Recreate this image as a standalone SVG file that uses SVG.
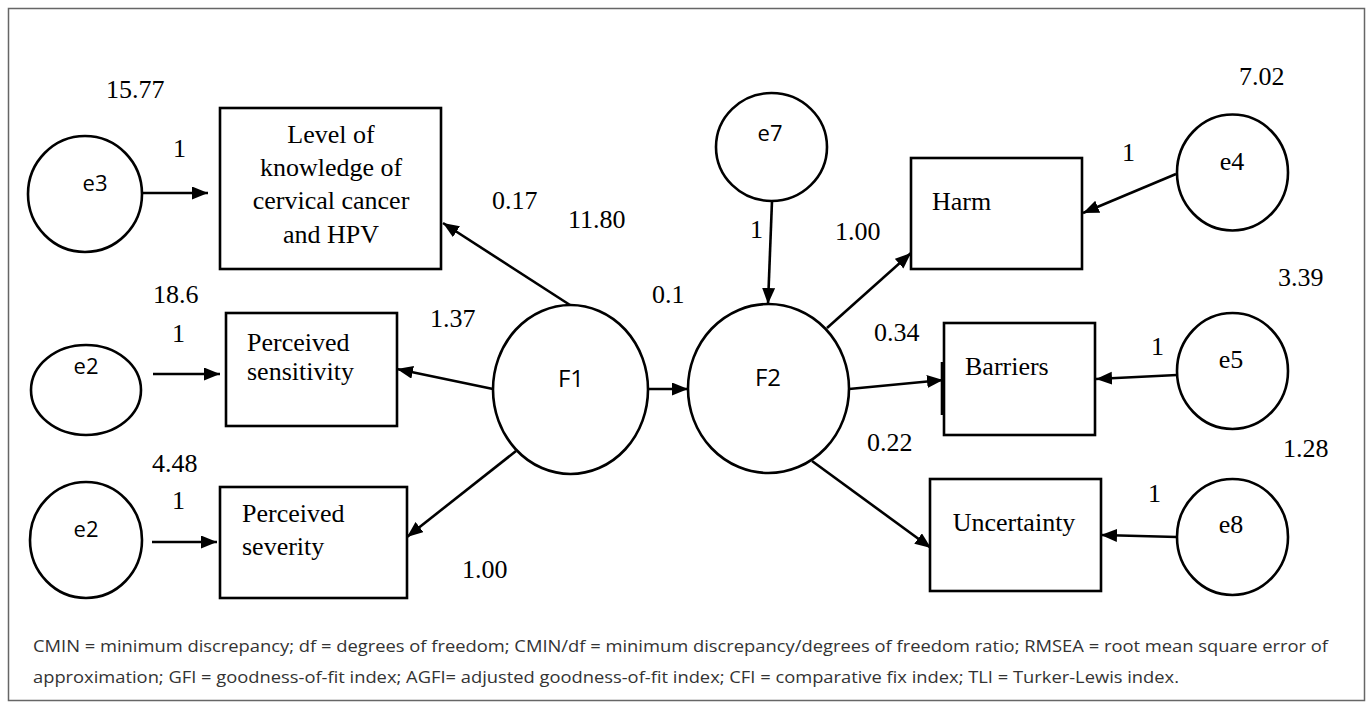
<svg xmlns="http://www.w3.org/2000/svg" width="1372" height="708" viewBox="0 0 1372 708">
<style>
.bg{fill:#fff}
.frame{fill:none;stroke:#666;stroke-width:1.5}
.shape{fill:#fff;stroke:#000;stroke-width:2.6}
.edge{fill:none;stroke:#000;stroke-width:2.6}
.serif{font-family:"Liberation Serif","Times New Roman",serif;font-size:26px;fill:#000}
.sans{font-family:"Open Sans","Liberation Sans",sans-serif;font-size:22px;fill:#000}
.big{font-size:24px}
.cap{font-family:"Open Sans","Liberation Sans",sans-serif;font-size:16px;fill:#333}
.mid{text-anchor:middle}
</style>
<defs>
<marker id="ah" markerUnits="userSpaceOnUse" markerWidth="18" markerHeight="14" refX="16" refY="6.5" orient="auto">
<path d="M0,0 L16,6.5 L0,13 z" fill="#000"/>
</marker>
</defs>
<rect class="bg" x="0" y="0" width="1372" height="708"/>
<rect class="frame" x="8.5" y="8.5" width="1356" height="692"/>

<g id="connectors">
<line class="edge" x1="142" y1="193" x2="208" y2="193" marker-end="url(#ah)"/>
<line class="edge" x1="153" y1="374" x2="220" y2="374" marker-end="url(#ah)"/>
<line class="edge" x1="152" y1="542" x2="217" y2="542" marker-end="url(#ah)"/>
<line class="edge" x1="570" y1="305" x2="443" y2="223" marker-end="url(#ah)"/>
<line class="edge" x1="493" y1="389" x2="397" y2="369" marker-end="url(#ah)"/>
<line class="edge" x1="516" y1="451" x2="407" y2="537" marker-end="url(#ah)"/>
<line class="edge" x1="648" y1="389" x2="688" y2="389" marker-end="url(#ah)"/>
<line class="edge" x1="772" y1="201" x2="768" y2="304" marker-end="url(#ah)"/>
<line class="edge" x1="827" y1="328" x2="911" y2="253" marker-end="url(#ah)"/>
<line class="edge" x1="849" y1="389" x2="943" y2="380" marker-end="url(#ah)"/>
<line class="edge" x1="812" y1="461" x2="931" y2="548" marker-end="url(#ah)"/>
<line class="edge" x1="1176" y1="174" x2="1083" y2="213" marker-end="url(#ah)"/>
<line class="edge" x1="1177" y1="375" x2="1096" y2="379" marker-end="url(#ah)"/>
<line class="edge" x1="1177" y1="537" x2="1101" y2="535" marker-end="url(#ah)"/>
</g>

<g id="e3">
<ellipse class="shape" cx="85" cy="194" rx="57" ry="58"/>
<text class="sans" x="95" y="191" text-anchor="middle">e3</text>
</g>
<g id="e2a">
<ellipse class="shape" cx="86" cy="390" rx="55" ry="45"/>
<text class="sans" x="86" y="374" text-anchor="middle">e2</text>
</g>
<g id="e2b">
<ellipse class="shape" cx="86" cy="540" rx="56" ry="58"/>
<text class="sans" x="86" y="537" text-anchor="middle">e2</text>
</g>
<g id="knowledge">
<rect class="shape" x="220" y="108" width="221" height="161"/>
<text class="serif mid" x="331" y="143">Level of</text>
<text class="serif mid" x="331" y="176">knowledge of</text>
<text class="serif mid" x="331" y="209">cervical cancer</text>
<text class="serif mid" x="331" y="243">and HPV</text>
</g>
<g id="sensitivity">
<rect class="shape" x="226" y="313" width="171" height="113"/>
<text class="serif" x="247" y="351">Perceived</text>
<text class="serif" x="247" y="380">sensitivity</text>
</g>
<g id="severity">
<rect class="shape" x="220" y="487" width="187" height="111"/>
<text class="serif" x="242" y="522">Perceived</text>
<text class="serif" x="242" y="555">severity</text>
</g>
<g id="F1">
<ellipse class="shape" cx="570.5" cy="389.5" rx="77.5" ry="84.5"/>
<text class="sans big mid" x="571" y="387">F1</text>
</g>
<g id="F2">
<ellipse class="shape" cx="768.5" cy="388.5" rx="80.5" ry="84.5"/>
<text class="sans big mid" x="768" y="386">F2</text>
</g>
<g id="e7">
<ellipse class="shape" cx="771.5" cy="147" rx="55.5" ry="54"/>
<text class="sans mid" x="770" y="141">e7</text>
</g>
<g id="harm">
<rect class="shape" x="911" y="158" width="171" height="111"/>
<text class="serif" x="932" y="210">Harm</text>
</g>
<g id="barriers">
<rect class="shape" x="944" y="323" width="151" height="112"/>
<line class="edge" x1="942" y1="362" x2="942" y2="415"/>
<text class="serif" x="965" y="375">Barriers</text>
</g>
<g id="uncertainty">
<rect class="shape" x="930" y="479" width="171" height="112"/>
<text class="serif mid" x="1014" y="531">Uncertainty</text>
</g>
<g id="e4">
<ellipse class="shape" cx="1232.5" cy="172.5" rx="55.5" ry="58"/>
<text class="serif mid" x="1232" y="170" font-size="24">e4</text>
</g>
<g id="e5">
<ellipse class="shape" cx="1232.5" cy="371" rx="55.5" ry="58"/>
<text class="serif mid" x="1231" y="368" font-size="24">e5</text>
</g>
<g id="e8">
<ellipse class="shape" cx="1232.5" cy="537" rx="55.5" ry="58"/>
<text class="serif mid" x="1231" y="533" font-size="24">e8</text>
</g>

<g id="labels" class="serif">
<text x="106" y="98">15.77</text>
<text x="173" y="157">1</text>
<text x="153" y="303">18.6</text>
<text x="172" y="342">1</text>
<text x="152" y="472">4.48</text>
<text x="172" y="509">1</text>
<text x="492" y="209">0.17</text>
<text x="568" y="228">11.80</text>
<text x="430" y="327">1.37</text>
<text x="652" y="303">0.1</text>
<text x="462" y="578">1.00</text>
<text x="750" y="238">1</text>
<text x="835" y="240">1.00</text>
<text x="874" y="341">0.34</text>
<text x="867" y="451">0.22</text>
<text x="1239" y="85">7.02</text>
<text x="1122" y="161">1</text>
<text x="1278" y="286">3.39</text>
<text x="1151" y="355">1</text>
<text x="1283" y="457">1.28</text>
<text x="1148" y="502">1</text>
</g>

<g id="caption">
<text class="cap" x="33" y="652" textLength="1295" lengthAdjust="spacingAndGlyphs">CMIN = minimum discrepancy; df = degrees of freedom; CMIN/df = minimum discrepancy/degrees of freedom ratio; RMSEA = root mean square error of</text>
<text class="cap" x="33" y="683" textLength="1146" lengthAdjust="spacingAndGlyphs">approximation; GFI = goodness-of-fit index; AGFI= adjusted goodness-of-fit index; CFI = comparative fix index; TLI = Turker-Lewis index.</text>
</g>
</svg>
